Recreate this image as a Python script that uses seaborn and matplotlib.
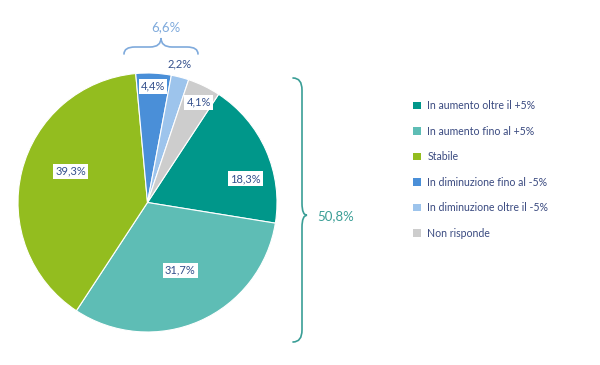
import numpy as np
import matplotlib
matplotlib.use("Agg")
import matplotlib.pyplot as plt
import seaborn as sns
from matplotlib.path import Path
from matplotlib.patches import PathPatch, Patch

categories = ["In aumento oltre il +5%", "In aumento fino al +5%", "Stabile",
              "In diminuzione fino al -5%", "In diminuzione oltre il -5%", "Non risponde"]
values = [18.3, 31.7, 39.3, 4.4, 2.2, 4.1]
group_top = "6,6%"
group_right = "50,8%"

colors = ["#00978A", "#5EBDB5", "#93BD1F", "#4A8FD8", "#9DC4EC", "#CDCDCD"]
label_color = "#34508C"
label_dist = [0.78, 0.58, 0.64, 0.90, 1.10, 0.87]
label_shift = [10, -2, 8, 0, -1.5, 1]  # degrees clockwise

sns.set_theme(style="white")
plt.rcParams['font.family'] = ['Lato', 'DejaVu Sans']

fig = plt.figure(figsize=(6, 3.65), dpi=100)
W, H = 600, 365
cx, cy, R = 147.5, 202.5, 129.5
ax = fig.add_axes([(cx - R) / W, (H - cy - R) / H, 2 * R / W, 2 * R / H])
wedges, _ = ax.pie(values, colors=colors, startangle=56.7, counterclock=False,
                   wedgeprops=dict(edgecolor="white", linewidth=0.8))
ax.set_xlim(-1, 1)
ax.set_ylim(-1, 1)
ax.axis("off")

for w, v, d, s in zip(wedges, values, label_dist, label_shift):
    ang = np.deg2rad((w.theta1 + w.theta2) / 2 - s)
    x, y = d * np.cos(ang), d * np.sin(ang)
    ax.text(x, y, f"{v:.1f}%".replace(".", ","), ha="center", va="center",
            fontsize=8, color=label_color, clip_on=False,
            bbox=dict(boxstyle="square,pad=0.18", fc="white", ec="none"))

ov = fig.add_axes([0, 0, 1, 1])
ov.set_xlim(0, W)
ov.set_ylim(H, 0)
ov.axis("off")
ov.patch.set_alpha(0)


def brace(p0, p1, m, h, tip, r, color, lw=1.2):
    p0 = np.array(p0, float)
    p1 = np.array(p1, float)
    L = np.linalg.norm(p1 - p0)
    u = (p1 - p0) / L
    n = np.array([u[1], -u[0]])
    t = tip * L
    loc = [(0, 0), (0, m), (r, m), (t - r, m), (t, m), (t, h),
           (t, m), (t + r, m), (L - r, m), (L, m), (L, 0)]
    codes = [Path.MOVETO, Path.CURVE3, Path.CURVE3, Path.LINETO, Path.CURVE3, Path.CURVE3,
             Path.CURVE3, Path.CURVE3, Path.LINETO, Path.CURVE3, Path.CURVE3]
    pts = [p0 + a * u + b * n for a, b in loc]
    ov.add_patch(PathPatch(Path(pts, codes), fc="none", ec=color, lw=lw, capstyle="round"))


brace((124, 54), (198, 54), 7, 16, 0.5, 11, "#7FAADC")
ov.text(166, 27, group_top, ha="center", va="center", fontsize=9.5, color="#7FAADC")
brace((293, 78), (293, 342), 9, 14, 0.52, 12, "#3A9E96")
ov.text(317, 216, group_right, ha="left", va="center", fontsize=9.5, color="#3A9E96")

handles = [Patch(facecolor=c, edgecolor="none") for c in colors]
leg = fig.legend(handles, categories, loc="upper left", bbox_to_anchor=(409 / W, 1 - 96 / H),
                 frameon=False, fontsize=7.6, handlelength=0.75, handleheight=0.75,
                 handletextpad=0.6, labelspacing=1.37, borderaxespad=0)
for t in leg.get_texts():
    t.set_color("#3A4A80")

fig.savefig("out.png", dpi=100, facecolor="white")
